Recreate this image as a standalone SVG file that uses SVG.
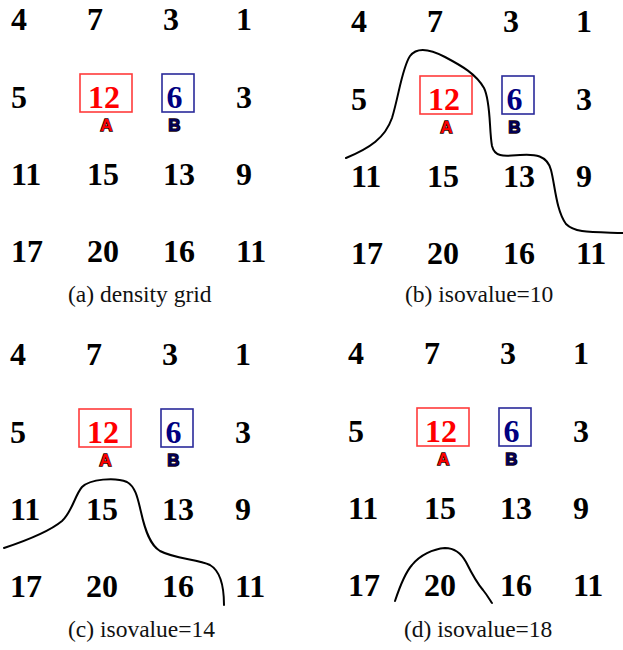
<svg xmlns="http://www.w3.org/2000/svg" width="623" height="650" viewBox="0 0 623 650">
<style>
.n{font-family:"Liberation Serif","Times New Roman",serif;font-weight:bold;font-size:32px;fill:#000}
.nr{fill:#ff0000}
.nb{fill:#000080}
.br{fill:none;stroke:#ff3b3b;stroke-width:1.6}
.bb{fill:none;stroke:#2a2a9a;stroke-width:1.6}
.lab{font-family:"Liberation Sans",Arial,sans-serif;font-weight:bold;font-size:17px;stroke:#200;stroke-width:1.4;paint-order:stroke;text-anchor:middle}
.la{fill:#ff0000}
.lb{fill:#00005a}
.cap{font-family:"Liberation Serif","Times New Roman",serif;font-size:23.5px;fill:#111}
.iso{fill:none;stroke:#000;stroke-width:2;stroke-linecap:round}
</style>
<g id="panel-a">
<g id="a-r1"><text class="n" x="11" y="30">4</text><text class="n" x="87" y="30">7</text><text class="n" x="163" y="30">3</text><text class="n" x="236" y="30">1</text></g>
<g id="a-r2"><text class="n" x="11" y="108">5</text><text class="n" x="236" y="108">3</text></g>
<g id="a-A"><rect class="br" x="80" y="74" width="52" height="38"/><text class="n nr" x="88" y="108">12</text><text class="lab la" x="106.5" y="131">A</text></g>
<g id="a-B"><rect class="bb" x="162" y="74" width="32" height="38"/><text class="n nb" x="166.5" y="108">6</text><text class="lab lb" x="174.5" y="131">B</text></g>
<g id="a-r3"><text class="n" x="11" y="185">11</text><text class="n" x="87" y="185">15</text><text class="n" x="163" y="185">13</text><text class="n" x="236" y="185">9</text></g>
<g id="a-r4"><text class="n" x="11" y="262">17</text><text class="n" x="87" y="262">20</text><text class="n" x="163" y="262">16</text><text class="n" x="236" y="262">11</text></g>
<text class="cap" x="68" y="302">(a) density grid</text>
</g>
<g id="panel-b" transform="translate(340,2)">
<g id="b-r1"><text class="n" x="11" y="30">4</text><text class="n" x="87" y="30">7</text><text class="n" x="163" y="30">3</text><text class="n" x="236" y="30">1</text></g>
<g id="b-r2"><text class="n" x="11" y="108">5</text><text class="n" x="236" y="108">3</text></g>
<g id="b-A"><rect class="br" x="80" y="74" width="52" height="38"/><text class="n nr" x="88" y="108">12</text><text class="lab la" x="106.5" y="131">A</text></g>
<g id="b-B"><rect class="bb" x="162" y="74" width="32" height="38"/><text class="n nb" x="166.5" y="108">6</text><text class="lab lb" x="174.5" y="131">B</text></g>
<g id="b-r3"><text class="n" x="11" y="185">11</text><text class="n" x="87" y="185">15</text><text class="n" x="163" y="185">13</text><text class="n" x="236" y="185">9</text></g>
<g id="b-r4"><text class="n" x="11" y="262">17</text><text class="n" x="87" y="262">20</text><text class="n" x="163" y="262">16</text><text class="n" x="236" y="262">11</text></g>
<text class="cap" x="65" y="300">(b) isovalue=10</text>
</g>
<g id="panel-c" transform="translate(-1,335)">
<g id="c-r1"><text class="n" x="11" y="30">4</text><text class="n" x="87" y="30">7</text><text class="n" x="163" y="30">3</text><text class="n" x="236" y="30">1</text></g>
<g id="c-r2"><text class="n" x="11" y="108">5</text><text class="n" x="236" y="108">3</text></g>
<g id="c-A"><rect class="br" x="80" y="74" width="52" height="38"/><text class="n nr" x="88" y="108">12</text><text class="lab la" x="106.5" y="131">A</text></g>
<g id="c-B"><rect class="bb" x="162" y="74" width="32" height="38"/><text class="n nb" x="166.5" y="108">6</text><text class="lab lb" x="174.5" y="131">B</text></g>
<g id="c-r3"><text class="n" x="11" y="185">11</text><text class="n" x="87" y="185">15</text><text class="n" x="163" y="185">13</text><text class="n" x="236" y="185">9</text></g>
<g id="c-r4"><text class="n" x="11" y="262">17</text><text class="n" x="87" y="262">20</text><text class="n" x="163" y="262">16</text><text class="n" x="236" y="262">11</text></g>
<text class="cap" x="69" y="302">(c) isovalue=14</text>
</g>
<g id="panel-d" transform="translate(337,334)">
<g id="d-r1"><text class="n" x="11" y="30">4</text><text class="n" x="87" y="30">7</text><text class="n" x="163" y="30">3</text><text class="n" x="236" y="30">1</text></g>
<g id="d-r2"><text class="n" x="11" y="108">5</text><text class="n" x="236" y="108">3</text></g>
<g id="d-A"><rect class="br" x="80" y="74" width="52" height="38"/><text class="n nr" x="88" y="108">12</text><text class="lab la" x="106.5" y="131">A</text></g>
<g id="d-B"><rect class="bb" x="162" y="74" width="32" height="38"/><text class="n nb" x="166.5" y="108">6</text><text class="lab lb" x="174.5" y="131">B</text></g>
<g id="d-r3"><text class="n" x="11" y="185">11</text><text class="n" x="87" y="185">15</text><text class="n" x="163" y="185">13</text><text class="n" x="236" y="185">9</text></g>
<g id="d-r4"><text class="n" x="11" y="262">17</text><text class="n" x="87" y="262">20</text><text class="n" x="163" y="262">16</text><text class="n" x="236" y="262">11</text></g>
<text class="cap" x="67" y="303">(d) isovalue=18</text>
</g>
<g id="isolines">
<path class="iso" d="M346,158 C370,148 385,138 392,118 C399,95 402,68 410,56 C416,48 428,48 445,57 C462,66 476,74 484,88 C491,102 489,130 492,146 C495,158 505,156 520,155 C535,154 547,155 551,170 C555,185 556,210 566,224 C575,233 590,232 623,233"/>
<path class="iso" d="M4,548 C25,541 50,531 62,521 C72,512 75,495 82,487 C90,479 115,477 127,482 C136,487 138,500 141,512 C145,530 150,545 160,551 C175,559 198,559 210,565 C222,572 224,590 224,605"/>
<path class="iso" d="M395,601 C399,589 404,574 412,565 C420,555 433,549 445,548 C455,548 461,553 466,562 C471,572 476,582 483,590 C487,595 490,600 492,603"/>
</g>
</svg>
